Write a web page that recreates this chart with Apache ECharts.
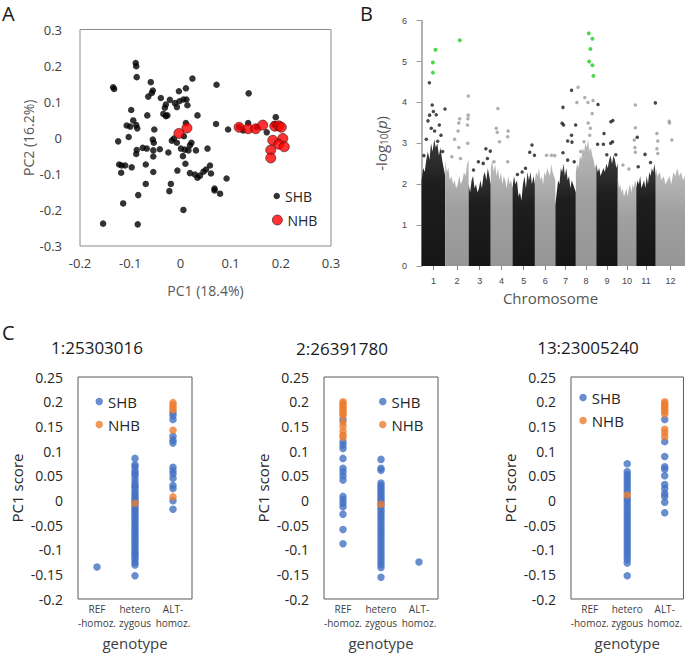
<!DOCTYPE html>
<html><head><meta charset="utf-8">
<script src="https://cdn.jsdelivr.net/npm/echarts@6/dist/echarts.min.js"></script>
<style>html,body{margin:0;padding:0;background:#fff}#c{width:685px;height:653px}</style>
</head><body><div id="c"></div>
<script>
// ---------- Panel A : PCA ----------
const pcaSHB = [
 [-0.089,0.207],[-0.088,0.198],[-0.087,0.168],[-0.134,0.140],[-0.132,0.135],[-0.059,0.154],[-0.055,0.131],[-0.057,0.124],
 [-0.064,0.114],[-0.039,0.110],[-0.003,0.129],[0.011,0.137],[0.024,0.164],[0.072,0.147],[0.136,0.123],[-0.021,0.105],
 [-0.029,0.092],[-0.031,0.083],[-0.011,0.096],[-0.002,0.101],[0.006,0.106],[0.012,0.106],[0.014,0.090],[-0.007,0.085],
 [-0.034,0.066],[-0.026,0.062],[-0.029,0.060],[-0.098,0.077],[-0.066,0.062],[0.034,0.062],[-0.094,0.048],[-0.107,0.034],
 [-0.100,0.031],[-0.088,0.035],[-0.086,0.026],[-0.052,0.023],[0.011,0.041],[0.071,0.038],[0.095,0.023],[-0.103,0.002],
 [-0.124,-0.010],[-0.055,-0.005],[-0.053,-0.014],[-0.017,-0.008],[-0.013,-0.002],[0.007,0.004],[-0.007,-0.014],[-0.087,-0.034],
 [-0.088,-0.045],[-0.075,-0.028],[-0.067,-0.030],[-0.054,-0.035],[-0.054,-0.052],[-0.041,-0.032],[-0.024,-0.041],[0.001,-0.030],
 [0.009,-0.033],[0.019,-0.021],[0.022,-0.014],[0.016,-0.035],[0.005,-0.051],[0.031,-0.035],[0.054,-0.030],[-0.122,-0.074],
 [-0.117,-0.077],[-0.110,-0.077],[-0.097,-0.082],[-0.118,-0.097],[-0.069,-0.074],[-0.054,-0.095],[-0.006,-0.091],[0.010,-0.072],
 [0.019,-0.098],[0.029,-0.102],[0.034,-0.111],[0.039,-0.105],[0.046,-0.094],[0.051,-0.088],[0.059,-0.077],[0.061,-0.099],
 [0.092,-0.113],[-0.069,-0.128],[-0.019,-0.128],[-0.022,-0.148],[0.068,-0.141],[0.068,-0.146],[0.079,-0.155],[-0.084,-0.159],
 [-0.114,-0.182],[0.006,-0.200],[-0.154,-0.238],[-0.085,-0.240],
 [0.117,0.030],[0.125,0.020],[0.135,0.041],[0.152,0.029],[0.172,0.015],[0.190,0.057],[0.187,0.037]
];
const pcaNHB = [
 [-0.003,0.012],[0.013,0.027],[0.117,0.029],[0.135,0.025],[0.150,0.025],[0.164,0.035],[0.188,0.032],[0.196,0.033],
 [0.201,0.029],[0.184,-0.007],[0.204,-0.002],[0.196,-0.018],[0.207,-0.025],[0.180,-0.034],[0.180,-0.056]
];

// ---------- Panel B : Manhattan ----------
const chromNames = ['1','2','3','4','5','6','7','8','9','10','11','12'];
const chromLengths = [24.3,24,22.7,22.3,23,21,21,21,22,19,20,30];
// dense-band top (-log10 p) sampled across each chromosome
const chromEnvelope = [
 [2.1,2.4,2.3,2.6,2.8,2.6,3.0,2.8,3.1,2.9,3.0,2.7,2.9,2.6,2.4,2.2],
 [2.6,2.3,2.4,2.1,2.2,2.0,2.1,1.9,2.0,2.2,2.0,2.1,2.3,2.2,2.5,2.6],
 [2.0,1.8,2.1,2.2,1.9,2.0,1.8,1.9,2.1,1.9,2.2,2.3,2.1,2.4,2.2,2.0],
 [2.4,2.6,2.3,2.5,2.2,2.4,2.1,2.3,2.0,2.2,2.1,1.9,2.2,2.0,2.1,1.9],
 [1.9,2.2,2.0,2.1,1.7,1.8,1.6,2.0,2.2,1.9,2.3,2.1,2.3,2.0,2.2,2.0],
 [2.1,2.3,2.2,2.4,2.1,2.2,2.0,2.3,2.2,2.4,2.3,2.2,2.5,2.3,2.2,2.1],
 [1.5,1.8,2.1,2.0,2.4,2.3,2.5,2.2,2.4,2.1,2.2,1.9,2.1,2.0,1.9,1.8],
 [2.3,2.5,2.4,2.7,2.6,2.9,2.8,3.0,2.9,3.1,2.8,2.9,2.7,2.6,2.4,2.5],
 [2.5,2.3,2.4,2.2,2.3,2.4,2.3,2.5,2.4,2.6,2.7,2.5,2.7,2.6,2.4,2.5],
 [2.2,1.9,2.0,1.8,1.9,1.7,1.8,1.9,1.7,1.9,2.0,1.8,2.0,1.9,2.1,2.0],
 [1.9,2.1,2.0,2.2,1.9,2.0,2.1,1.9,2.2,2.0,2.3,2.2,2.4,2.3,2.5,2.2],
 [2.4,2.2,2.3,2.1,2.2,2.0,2.1,2.2,2.0,2.3,2.2,2.4,2.2,2.3,2.1,2.2]
];
// [chromosome, relative position in chromosome, -log10 p]
const gwasPoints = [
 [1,0.33,4.48],[1,0.45,3.94],[1,0.50,3.78],[1,0.99,3.84],[1,0.34,3.69],[1,0.62,3.70],[1,0.27,3.55],[1,0.75,3.45],
 [1,0.41,3.37],[1,0.55,3.30],[1,0.82,3.20],[1,0.20,3.10],[1,0.68,3.05],[1,0.10,2.70],[1,0.89,2.80],
 [2,0.99,4.16],[2,0.98,3.69],[2,0.97,3.60],[2,0.62,3.60],[2,0.58,3.50],[2,0.55,3.30],[2,0.40,3.10],[2,0.58,2.90],
 [2,0.95,3.45],[2,0.96,3.00],[2,0.28,2.67],[2,0.65,2.63],
 [3,0.78,2.87],[3,0.98,2.81],[3,0.44,2.55],[3,0.66,2.51],[3,0.85,2.63],[3,0.22,2.35],
 [4,0.33,3.85],[4,0.25,3.37],[4,0.30,3.27],[4,0.40,3.04],[4,0.80,3.30],[4,0.78,3.16],[4,0.15,2.55],[4,0.78,2.55],
 [5,0.87,2.96],[5,0.77,2.78],[5,0.98,2.71],[5,0.58,2.39],[5,0.22,2.24],[5,0.43,2.30],
 [6,0.57,2.71],[6,0.81,2.71],[6,0.97,2.70],
 [7,0.79,4.30],[7,0.37,3.88],[7,0.33,3.49],[7,0.40,3.45],[7,0.99,3.45],[7,0.60,3.06],[7,0.81,3.03],[7,0.79,3.20],
 [7,0.37,2.77],[7,0.60,2.59],[7,0.92,2.55],
 [8,0.11,4.37],[8,0.05,4.00],[8,0.44,4.12],[8,0.59,4.00],[8,0.84,4.05],[8,0.60,3.50],[8,0.80,3.73],[8,0.71,3.37],
 [8,0.68,3.20],[8,0.40,3.04],[8,0.24,2.80],
 [9,0.08,3.95],[9,0.68,3.53],[9,0.77,3.56],[9,0.36,3.24],[9,0.06,2.98],[9,0.33,2.98],[9,0.67,3.00],[9,0.76,3.04],
 [9,0.91,2.72],[9,0.49,2.72],
 [10,0.95,3.94],[10,0.95,3.38],[10,0.89,3.08],[10,0.93,2.90],[10,0.95,2.78],[10,0.60,2.37],[10,0.28,2.47],
 [11,0.98,3.99],[11,0.05,3.15],[11,0.45,2.73],[11,0.73,2.53],[11,0.10,2.43],
 [12,0.46,3.54],[12,0.47,3.50],[12,0.55,3.08],[12,0.04,3.24],[12,0.07,3.06],[12,0.04,2.87],[12,0.07,2.75]
];
const gwasSignificant = [
 [1,0.48,4.73],[1,0.48,4.98],[1,0.59,5.29],[2,0.62,5.52],
 [8,0.63,5.69],[8,0.81,5.56],[8,0.71,5.31],[8,0.65,5.00],[8,0.81,4.91],[8,0.86,4.65]
];

// ---------- Panel C : PC1 score by genotype ----------
const genotypes = ['REF\n-homoz.','hetero\nzygous','ALT-\nhomoz.'];
const lociTitles = ['1:25303016','2:26391780','13:23005240'];
const locus1SHB = [
 [-0.135],
 [0.085,0.072,0.068,0.060,0.055,0.050,0.042,0.035,0.030,0.026,0.020,0.015,0.010,0.005,0.000,-0.004,-0.010,-0.015,-0.020,-0.025,
  -0.030,-0.036,-0.040,-0.045,-0.050,-0.055,-0.060,-0.065,-0.070,-0.075,-0.080,-0.085,-0.090,-0.095,-0.100,-0.105,-0.110,-0.115,
  -0.120,-0.126,-0.131,-0.153],
 [0.178,0.172,0.164,0.130,0.122,0.116,0.067,0.060,0.054,0.045,0.030,0.024,-0.001,-0.018]
];
const locus1NHB = [[],[-0.006],[0.198,0.193,0.188,0.183,0.142,0.007]];
const locus2SHB = [
 [0.164,0.119,0.112,0.105,0.085,0.065,0.058,0.050,0.041,0.008,0.001,-0.006,-0.013,-0.028,-0.059,-0.088],
 [0.083,0.065,0.061,0.035,0.030,0.025,0.020,0.015,0.010,0.005,0.000,-0.005,-0.010,-0.016,-0.022,-0.028,-0.034,-0.040,-0.046,
  -0.052,-0.058,-0.064,-0.070,-0.076,-0.082,-0.088,-0.094,-0.100,-0.106,-0.112,-0.118,-0.124,-0.130,-0.136,-0.156],
 [-0.125]
];
const locus2NHB = [[0.200,0.196,0.192,0.188,0.184,0.180,0.176,0.172,0.158,0.150,0.140,0.132,0.128],[-0.008],[]];
const locus3SHB = [
 [],
 [0.074,0.058,0.052,0.046,0.040,0.034,0.028,0.022,0.016,0.005,0.000,-0.006,-0.012,-0.018,-0.024,-0.030,-0.036,-0.042,-0.048,
  -0.054,-0.060,-0.066,-0.072,-0.078,-0.084,-0.090,-0.096,-0.102,-0.108,-0.114,-0.120,-0.127,-0.153],
 [0.164,0.119,0.089,0.068,0.063,0.050,0.032,0.024,0.014,0.008,-0.004,-0.025]
];
const locus3NHB = [[],[0.011],[0.200,0.196,0.192,0.188,0.184,0.180,0.175,0.144,0.137,0.129]];

// ---------- build ----------
const FONT = 'Open Sans';
const BLUE = '#4472C4', ORANGE = '#ED7D31';
const chart = echarts.init(document.getElementById('c'), null, {renderer:'svg'});
const fmt = v => String(+(+v).toFixed(2));

const chromStarts = [];
let acc = 0;
chromLengths.forEach(l => { chromStarts.push(acc); acc += l; });
const chromCenters = chromStarts.map((s,i) => s + chromLengths[i]/2);
const gwasXY = p => [chromStarts[p[0]-1] + p[1]*chromLengths[p[0]-1], p[2]];

const grids = [
  {left:80, top:29.5, width:251, height:216.5, show:true, borderColor:'#8a8a8a', borderWidth:1, backgroundColor:'transparent'},
  {left:416, top:20.7, width:276, height:245.3},
  {left:78, top:377, width:114, height:222, show:true, borderColor:'#595959', borderWidth:1, backgroundColor:'transparent'},
  {left:324, top:377, width:114, height:222, show:true, borderColor:'#595959', borderWidth:1, backgroundColor:'transparent'},
  {left:571, top:377, width:113, height:222, show:true, borderColor:'#595959', borderWidth:1, backgroundColor:'transparent'}
];

const xAxes = [
  {gridIndex:0, type:'value', min:-0.2, max:0.3, interval:0.1, splitLine:{show:false}, axisLine:{show:false}, axisTick:{show:false},
   axisLabel:{fontFamily:FONT, fontSize:13, color:'#404040', margin:10, formatter:fmt},
   name:'PC1 (18.4%)', nameLocation:'middle', nameGap:37, nameTextStyle:{fontFamily:FONT, fontSize:14, color:'#595959'}},
  {gridIndex:1, type:'value', min:-5.7, max:acc, splitLine:{show:false}, axisLine:{show:false},
   axisTick:{show:true, customValues:chromCenters, length:4, lineStyle:{color:'#888'}},
   axisLabel:{customValues:chromCenters, fontFamily:'Liberation Sans', fontSize:9, color:'#444', margin:10,
     formatter: v => { let best=0; chromCenters.forEach((c,i)=>{ if (Math.abs(c-v) < Math.abs(chromCenters[best]-v)) best=i; }); return chromNames[best]; }},
   name:'Chromosome', nameLocation:'middle', nameGap:24, nameTextStyle:{fontFamily:FONT, fontSize:15, color:'#555'}}
];
const yAxes = [
  {gridIndex:0, type:'value', min:-0.3, max:0.3, interval:0.1, splitLine:{show:false}, axisLine:{show:false}, axisTick:{show:false},
   axisLabel:{fontFamily:FONT, fontSize:13, color:'#404040', margin:18, formatter:fmt},
   name:'PC2 (16.2%)', nameLocation:'middle', nameGap:45, nameTextStyle:{fontFamily:FONT, fontSize:14, color:'#595959'}},
  {gridIndex:1, type:'value', min:0, max:6, interval:1, splitLine:{show:false},
   axisLine:{show:true, lineStyle:{color:'#999', width:1.5}}, axisTick:{show:true, length:5, lineStyle:{color:'#999'}},
   axisLabel:{fontFamily:'Liberation Sans', fontSize:9, color:'#444', margin:9},
   name:'-log{s|10}({i|p})', nameLocation:'middle', nameGap:27,
   nameTextStyle:{fontFamily:FONT, fontSize:15, color:'#555',
     rich:{s:{fontFamily:FONT, fontSize:10, color:'#555', padding:[7,0,0,0]}, i:{fontFamily:FONT, fontSize:15, color:'#555', fontStyle:'italic'}}}}
];
for (let k=0;k<3;k++){
  xAxes.push({gridIndex:2+k, type:'category', data:genotypes, axisLine:{show:false}, axisTick:{show:false}, splitLine:{show:false},
    axisLabel:{fontFamily:FONT, fontSize:10, color:'#404040', margin:3, lineHeight:14, interval:0},
    name:'genotype', nameLocation:'middle', nameGap:36, nameTextStyle:{fontFamily:FONT, fontSize:15, color:'#404040'}});
  yAxes.push({gridIndex:2+k, type:'value', min:-0.2, max:0.25, interval:0.05, splitLine:{show:false}, axisLine:{show:false}, axisTick:{show:false},
    axisLabel:{fontFamily:FONT, fontSize:14, color:'#262626', margin:15, formatter:fmt},
    name:'PC1 score', nameLocation:'middle', nameGap:54, nameTextStyle:{fontFamily:FONT, fontSize:15, color:'#262626'}});
}

const series = [];
// Panel A
series.push({name:'SHB', type:'scatter', xAxisIndex:0, yAxisIndex:0, data:pcaSHB, symbolSize:6.5, itemStyle:{color:'#000'}});
series.push({name:'NHB', type:'scatter', xAxisIndex:0, yAxisIndex:0, data:pcaNHB, symbolSize:10,
  itemStyle:{color:'#ff0000', borderColor:'#3a1010', borderWidth:0.8}});
// Panel B
chromEnvelope.forEach((h,i) => {
  const dark = i%2===0;
  const grad = new echarts.graphic.LinearGradient(0,0,0,1, dark
    ? [{offset:0,color:'#3c3c3c'},{offset:0.35,color:'#1e1e1e'},{offset:1,color:'#161616'}]
    : [{offset:0,color:'#bcbcbc'},{offset:0.45,color:'#a0a0a0'},{offset:1,color:'#969696'}]);
  const data = h.map((v,j) => [chromStarts[i] + chromLengths[i]*j/(h.length-1), v]);
  data.unshift([chromStarts[i], 0]); data.push([chromStarts[i]+chromLengths[i], 0]);
  series.push({type:'line', xAxisIndex:1, yAxisIndex:1, data:data, symbol:'none', silent:true,
    lineStyle:{width:0}, areaStyle:{color:grad, opacity:1}, z:1});
});
series.push({type:'scatter', xAxisIndex:1, yAxisIndex:1, symbolSize:3.5, z:2, itemStyle:{color:'#1a1a1a'},
  data: gwasPoints.filter(p => p[0]%2===1).map(gwasXY)});
series.push({type:'scatter', xAxisIndex:1, yAxisIndex:1, symbolSize:3.5, z:2, itemStyle:{color:'#9a9a9a'},
  data: gwasPoints.filter(p => p[0]%2===0).map(gwasXY)});
series.push({type:'scatter', xAxisIndex:1, yAxisIndex:1, symbolSize:4, z:3, itemStyle:{color:'#22cc22'},
  data: gwasSignificant.map(gwasXY)});
// Panel C
const loci = [[locus1SHB,locus1NHB],[locus2SHB,locus2NHB],[locus3SHB,locus3NHB]];
loci.forEach((pair,k) => {
  const toPts = lists => { const out=[]; lists.forEach((arr,ci)=>arr.forEach(v=>out.push([ci,v]))); return out; };
  series.push({name:'SHB', type:'scatter', xAxisIndex:2+k, yAxisIndex:2+k, data:toPts(pair[0]), symbolSize:7.5, itemStyle:{color:BLUE}});
  series.push({name:'NHB', type:'scatter', xAxisIndex:2+k, yAxisIndex:2+k, data:toPts(pair[1]), symbolSize:7.5, itemStyle:{color:ORANGE}});
});

const legendBase = {padding:0, selectedMode:false, orient:'vertical', textStyle:{fontFamily:FONT, fontSize:14, color:'#262626'}};
const legends = [
  Object.assign({}, legendBase, {left:273.5, top:189, itemWidth:6.5, itemHeight:6.5,
    data:[{name:'SHB', icon:'circle', itemStyle:{color:'#000', borderWidth:0}}]}),
  Object.assign({}, legendBase, {left:272, top:213, itemWidth:10, itemHeight:10,
    data:[{name:'NHB', icon:'circle', itemStyle:{color:'#ff0000', borderColor:'#3a1010', borderWidth:0.8}}]})
];
[[95.5,394],[379,394],[579.3,390]].forEach(pos => {
  legends.push(Object.assign({}, legendBase, {left:pos[0], top:pos[1], itemWidth:7.5, itemHeight:7.5, itemGap:8,
    textStyle:{fontFamily:FONT, fontSize:15, color:'#262626'},
    data:[{name:'SHB', icon:'circle', itemStyle:{color:BLUE, borderWidth:0}},
          {name:'NHB', icon:'circle', itemStyle:{color:ORANGE, borderWidth:0, borderColor:ORANGE}}]}));
});

const txt = (x,y,t,size,align) => ({type:'text', x:x, y:y, style:{text:t, fontFamily:FONT, fontSize:size, fill:'#1a1a1a', textAlign:align||'left', textVerticalAlign:'middle'}});
const graphics = [
  txt(2,13,'A',20), txt(360,13,'B',20), txt(2,332,'C',20),
  txt(97,347,lociTitles[0],17,'center'), txt(342,348,lociTitles[1],17,'center'), txt(588,347,lociTitles[2],17,'center')
];

chart.setOption({
  animation:false, backgroundColor:'#fff',
  grid:grids, xAxis:xAxes, yAxis:yAxes, series:series, legend:legends, graphic:graphics
});
</script></body></html>
